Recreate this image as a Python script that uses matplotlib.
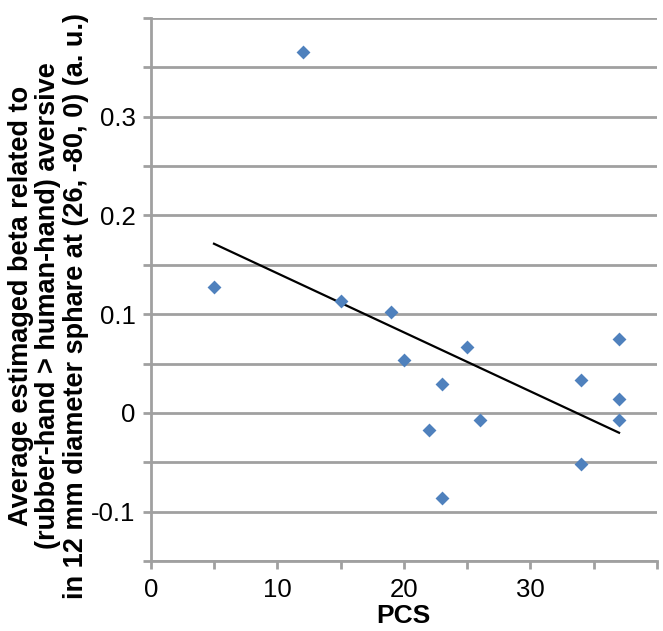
import numpy as np
import matplotlib.pyplot as plt
from matplotlib.ticker import FuncFormatter

# PCS score vs average beta (a.u.)
pcs = [5, 12, 15, 19, 20, 22, 23, 23, 25, 26, 34, 34, 37, 37, 37]
beta = [0.127, 0.366, 0.113, 0.102, 0.054, -0.017, 0.029, -0.086,
        0.067, -0.007, 0.033, -0.052, 0.075, 0.014, -0.007]

x_ticks = np.arange(0, 41, 5)
x_labels = [0, 10, 20, 30]
y_ticks = np.round(np.arange(-0.15, 0.401, 0.05), 2)
y_labels = [0.3, 0.2, 0.1, 0, -0.1]

plt.rcParams['font.family'] = ['Liberation Sans', 'DejaVu Sans']
grey = '#a0a0a0'

fig = plt.figure(figsize=(6.63, 6.31), dpi=100)
ax = fig.add_axes([0.2273, 0.111, 0.7637, 0.8605])

# gridlines at every tick
for yv in y_ticks:
    ax.axhline(yv, color=grey, lw=2, zorder=0)

ax.scatter(pcs, beta, marker='D', s=50, color='#4f81bd', zorder=3, linewidths=0)

# linear trend line
k, b = np.polyfit(pcs, beta, 1)
xs = np.array([min(pcs), max(pcs)])
ax.plot(xs, k * xs + b, color='black', lw=1.6, zorder=2)

ax.set_xlim(0, 40)
ax.set_ylim(-0.15, 0.4)
ax.set_xticks(x_ticks)
ax.set_yticks(y_ticks)
ax.xaxis.set_major_formatter(FuncFormatter(
    lambda v, p: f'{int(v)}' if int(round(v)) in x_labels else ''))
ax.yaxis.set_major_formatter(FuncFormatter(
    lambda v, p: (f'{v:g}' if abs(v) > 1e-9 else '0')
    if any(abs(v - t) < 1e-6 for t in y_labels) else ''))

for side in ['top', 'right']:
    ax.spines[side].set_visible(False)
for side in ['left', 'bottom']:
    ax.spines[side].set_color(grey)
    ax.spines[side].set_linewidth(2)
ax.tick_params(axis='both', color=grey, width=2, length=6, labelsize=18.5,
               direction='out')
ax.tick_params(axis='x', pad=6)
ax.tick_params(axis='y', pad=5)

ax.set_xlabel('PCS', fontsize=19, fontweight='bold', labelpad=2)
ax.set_ylabel('Average estimaged beta related to\n(rubber-hand > human-hand) aversive\n'
              'in 12 mm diameter sphare at (26, -80, 0) (a. u.)',
              fontsize=19.5, fontweight='bold', linespacing=1.08)
ax.yaxis.set_label_coords(-0.122, 0.47)

fig.savefig('out.png', dpi=100)
